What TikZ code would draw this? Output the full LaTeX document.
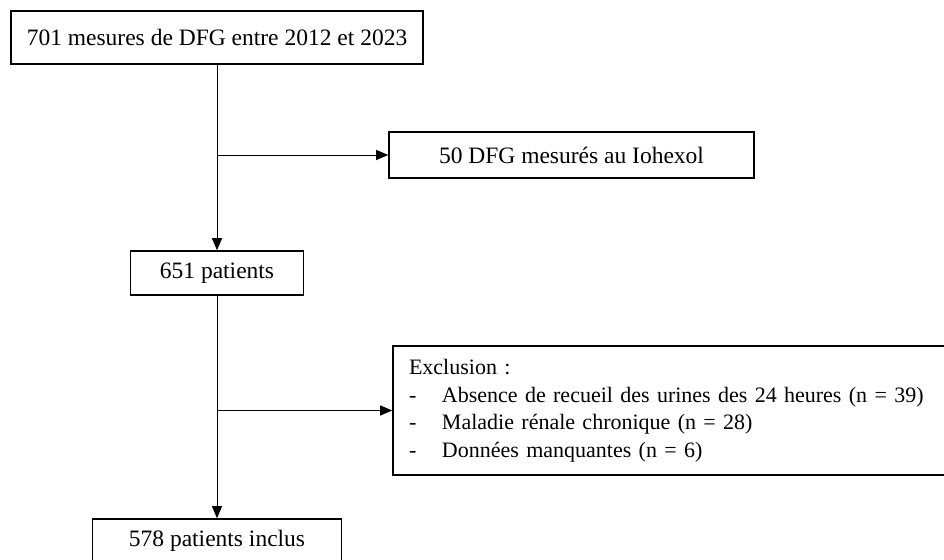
\documentclass[tikz,border=0pt]{standalone}
\usepackage{fontspec}
\setmainfont{Liberation Serif}
\usetikzlibrary{arrows.meta}
\begin{document}
\begin{tikzpicture}[x=1pt,y=-1pt,
		boite/.style={draw,line width=1.6pt,inner sep=0pt,font=\fontsize{23.5}{27.5}\selectfont},
		fleche/.style={line width=1pt,-{Triangle[length=12pt,width=10pt]}}]
				\clip (0,0) rectangle (944,559);
				\node[boite,line width=2.4pt,minimum width=412,minimum height=53] (mesures) at (217,37.5) {701 mesures de DFG entre 2012 et 2023};
				\node[boite,minimum width=365,minimum height=46] (iohexol) at (571.5,155) {50 DFG mesurés au Iohexol};
				\node[boite,minimum width=173,minimum height=44] (patients) at (217,273) {651 patients};
				\node[boite,font=\fontsize{22}{27.5}\selectfont,minimum width=572,minimum height=129,text width=540,inner xsep=16pt,align=left] (exclusion) at (679,410.5) {Exclusion :\\
					\makebox[33pt][l]{-}Absence de recueil des urines des 24 heures (n = 39)\\
					\makebox[33pt][l]{-}Maladie rénale chronique (n = 28)\\
					\makebox[33pt][l]{-}Données manquantes (n = 6)};
				\node[boite,minimum width=249,minimum height=44] (inclus) at (217,541) {578 patients inclus};
				\draw[fleche] (mesures) -- (patients);
				\draw[fleche] (mesures |- iohexol) -- (iohexol);
				\draw[fleche] (patients) -- (inclus);
				\draw[fleche] (patients |- exclusion) -- (exclusion);
			\end{tikzpicture}
\end{document}
